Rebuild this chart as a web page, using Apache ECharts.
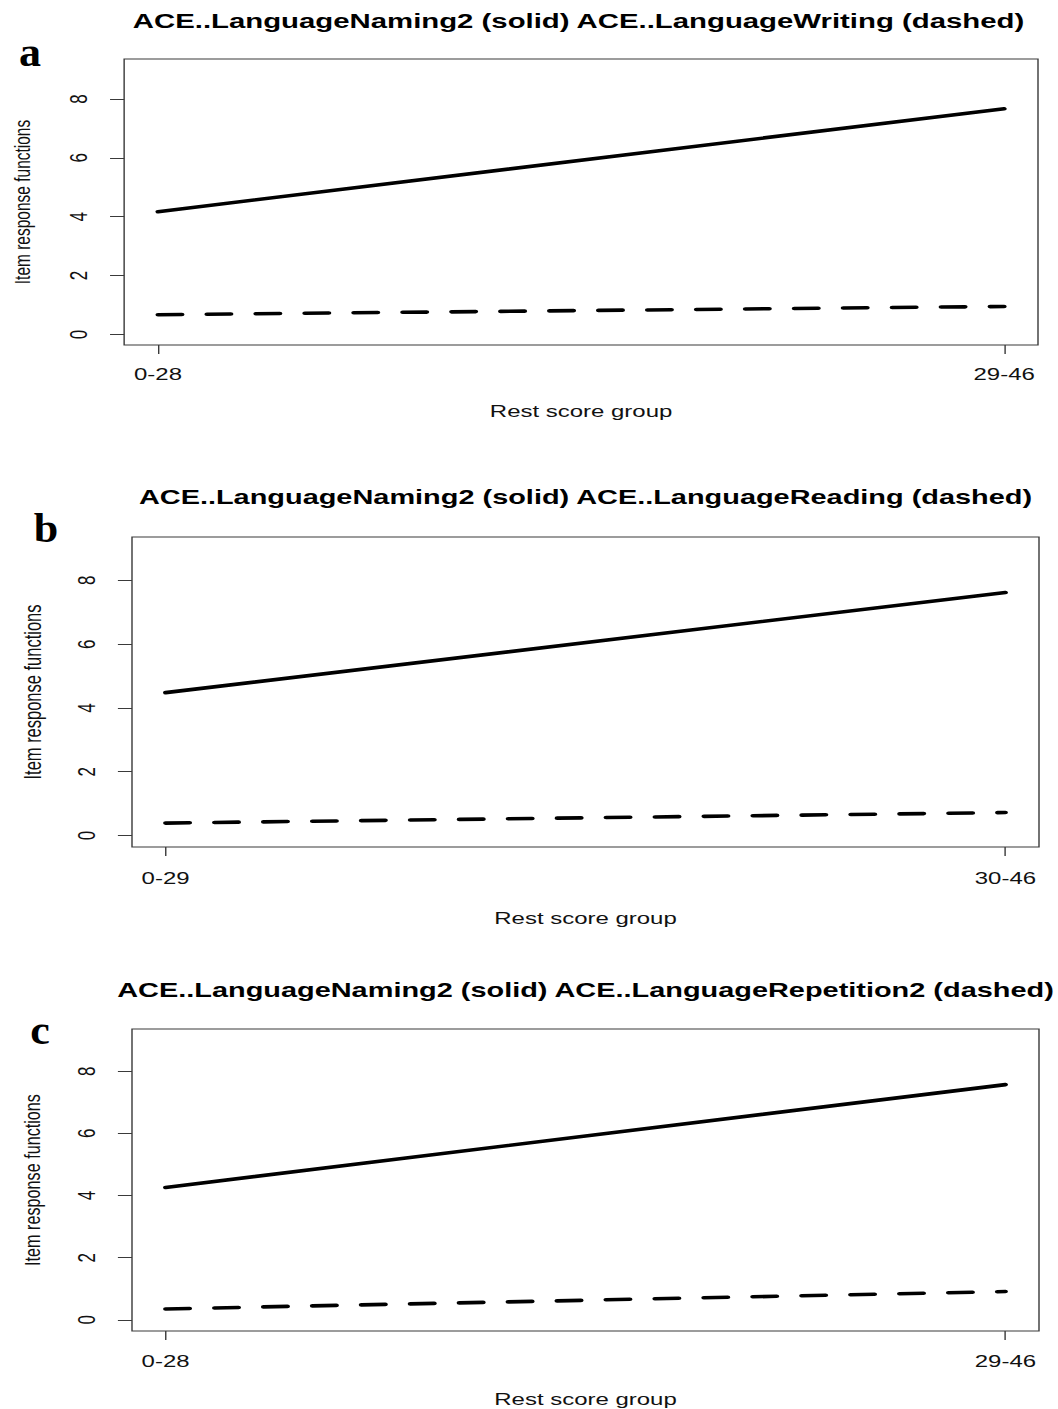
<!DOCTYPE html>
<html>
<head>
<meta charset="utf-8">
<script src="https://cdn.jsdelivr.net/npm/echarts@6/dist/echarts.min.js"></script>
<style>
html,body{margin:0;padding:0;background:#fff;overflow:hidden;}
#wrap{width:1058px;height:1409px;overflow:hidden;position:relative;}
#chart{width:750px;height:1409px;transform-origin:0 0;transform:scaleX(1.410667);}
</style>
</head>
<body>
<div id="wrap"><div id="chart"></div></div>
<script>
// ---- data ----
const panelLetters = ['a', 'b', 'c'];
const panelTitles = [
  'ACE..LanguageNaming2 (solid) ACE..LanguageWriting (dashed)',
  'ACE..LanguageNaming2 (solid) ACE..LanguageReading (dashed)',
  'ACE..LanguageNaming2 (solid) ACE..LanguageRepetition2 (dashed)'
];
const xLabelsA = ['0-28', '29-46'];
const xLabelsB = ['0-29', '30-46'];
const xLabelsC = ['0-28', '29-46'];
const solidA = [4.17, 7.67];
const dashedA = [0.67, 0.95];
const solidB = [4.48, 7.62];
const dashedB = [0.39, 0.72];
const solidC = [4.26, 7.57];
const dashedC = [0.35, 0.91];
const yTicks = [0, 2, 4, 6, 8];
const xPositions = [1, 2];
const yAxisName = 'Item response functions';
const xAxisName = 'Rest score group';

// ---- layout (internal units, page is stretched horizontally by S) ----
const S = 1058 / 750;
const grids = [
  {left: 119 / S, top: 59, width: (1038 - 119) / S, height: 286},
  {left: 132 / S, top: 537, width: (1039 - 132) / S, height: 310},
  {left: 132 / S, top: 1029, width: (1039 - 132) / S, height: 302}
];
const xLabelMargins = [20, 22, 21];
const xNameGaps = [57, 62, 59];
const yNameGaps = [64, 62, 63];
const yNameSizes = [15.5, 16.5, 16.2];
const titleSizes = [20.8, 20.5, 20.5];
const titleY = [21, 496.5, 990];
const letterPos = [[30, 52], [46, 528], [40, 1030]];

const xLabelSets = [xLabelsA, xLabelsB, xLabelsC];
const solidSets = [solidA, solidB, solidC];
const dashedSets = [dashedA, dashedB, dashedC];

const FONT = '"Liberation Sans", Arial, sans-serif';
const chart = echarts.init(document.getElementById('chart'), null, {renderer: 'svg', width: 750, height: 1409});

const option = {
  animation: false,
  backgroundColor: '#ffffff',
  grid: grids.map(g => ({
    left: g.left, top: g.top, width: g.width, height: g.height,
    show: true, borderColor: '#3a3a3a', borderWidth: 1, backgroundColor: 'transparent',
    containLabel: false
  })),
  xAxis: grids.map((g, i) => ({
    type: 'value', gridIndex: i, min: 0.96, max: 2.04,
    splitLine: {show: false},
    axisLine: {show: false, onZero: false},
    axisTick: {show: true, length: 9, customValues: xPositions, lineStyle: {color: '#3a3a3a', width: 1}},
    axisLabel: {
      show: true, customValues: xPositions, margin: xLabelMargins[i],
      fontFamily: FONT, fontSize: 17, color: '#111',
      formatter: v => xLabelSets[i][Math.round(v) - 1] || ''
    },
    name: xAxisName, nameLocation: 'middle', nameGap: xNameGaps[i],
    nameTextStyle: {fontFamily: FONT, fontSize: 17, color: '#111'}
  })),
  yAxis: grids.map((g, i) => ({
    type: 'value', gridIndex: i, min: -0.36, max: 9.36,
    splitLine: {show: false},
    axisLine: {show: false, onZero: false},
    axisTick: {show: true, length: 10, customValues: yTicks, lineStyle: {color: '#3a3a3a', width: 1}},
    axisLabel: {
      show: true, customValues: yTicks, rotate: 90, margin: 24,
      fontFamily: FONT, fontSize: 17, color: '#111'
    },
    name: yAxisName, nameLocation: 'middle', nameGap: yNameGaps[i], nameRotate: 90,
    nameTextStyle: {fontFamily: FONT, fontSize: yNameSizes[i], color: '#111'}
  })),
  series: [].concat(...grids.map((g, i) => [
    {
      type: 'line', xAxisIndex: i, yAxisIndex: i, symbol: 'none', silent: true,
      data: xPositions.map((x, k) => [x, solidSets[i][k]]),
      lineStyle: {color: '#000', width: 3.6, type: 'solid', cap: 'round'}
    },
    {
      type: 'line', xAxisIndex: i, yAxisIndex: i, symbol: 'none', silent: true,
      data: xPositions.map((x, k) => [x, dashedSets[i][k]]),
      lineStyle: {color: '#000', width: 3.6, type: [17, 17.7], cap: 'round'}
    }
  ])),
  graphic: [].concat(
    grids.map((g, i) => ({
      type: 'text', x: g.left + g.width / 2, y: titleY[i],
      style: {
        text: panelTitles[i], fontFamily: FONT, fontWeight: 'bold', fontSize: titleSizes[i],
        fill: '#000', textAlign: 'center', textVerticalAlign: 'middle'
      }
    })),
    letterPos.map((p, i) => ({
      type: 'text', x: p[0] / S, y: p[1], scaleX: 1 / S * 1.05, scaleY: 1,
      style: {
        text: panelLetters[i], fontFamily: '"Liberation Serif", "Times New Roman", serif',
        fontWeight: 'bold', fontSize: 42, fill: '#000',
        textAlign: 'center', textVerticalAlign: 'middle'
      }
    }))
  )
};
chart.setOption(option);
</script>
</body>
</html>
